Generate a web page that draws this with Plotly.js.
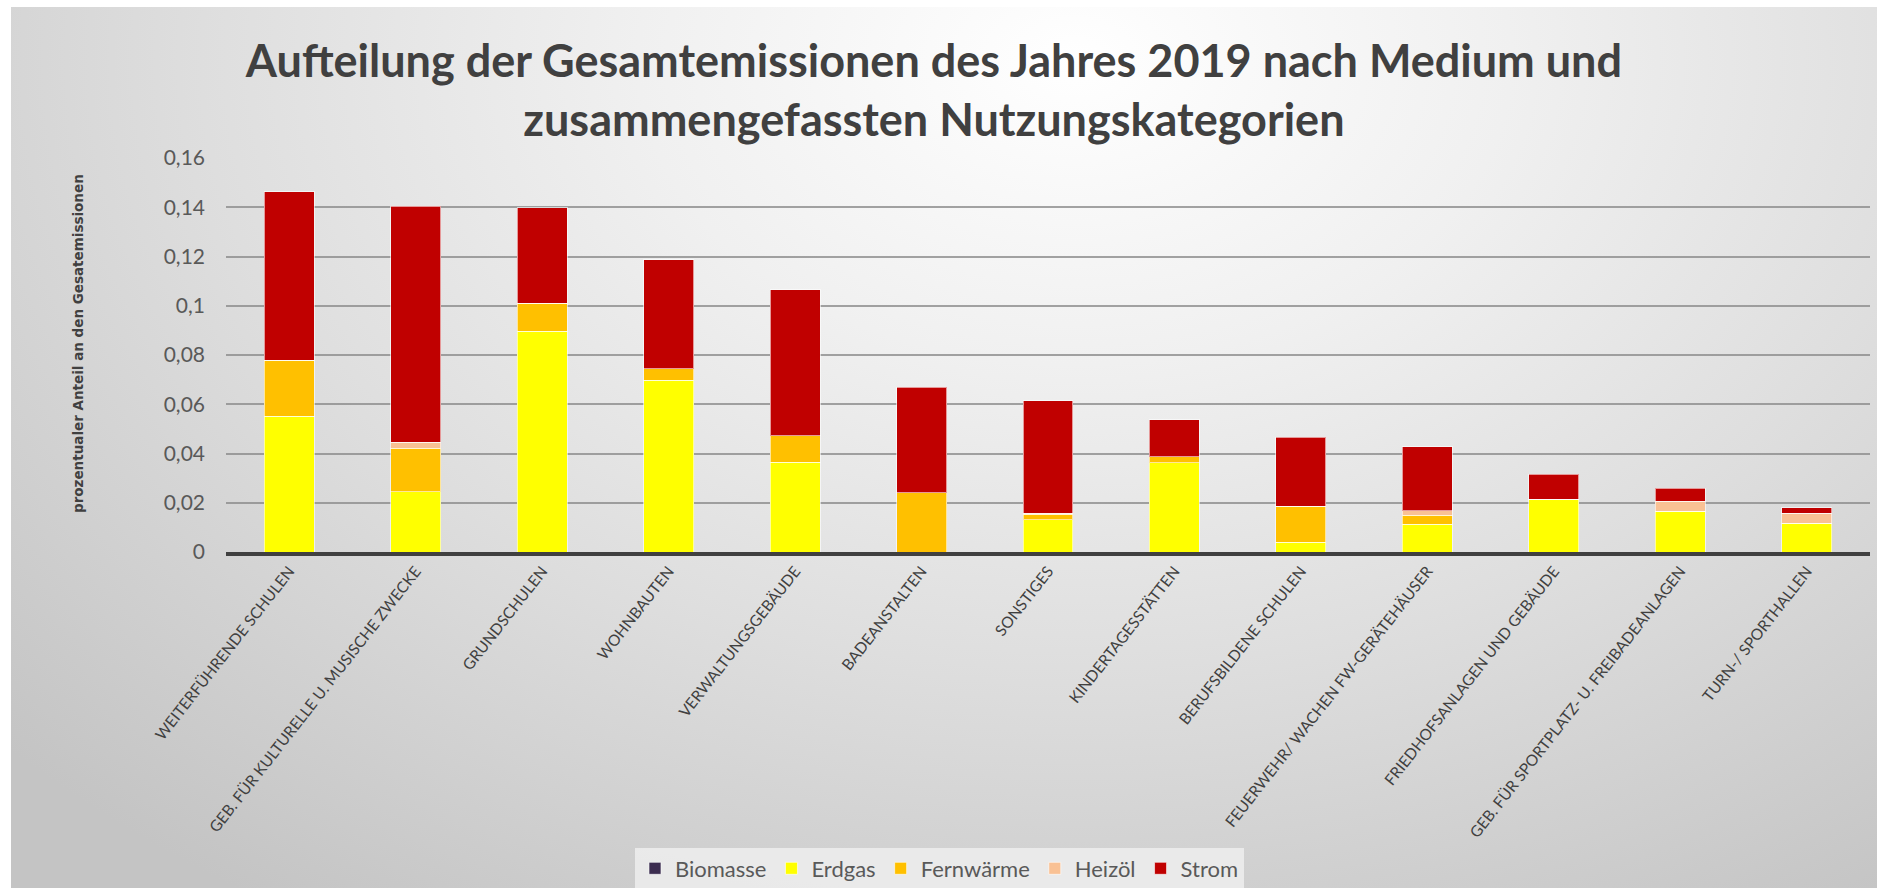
<!DOCTYPE html>
<html>
<head>
<meta charset="utf-8">
<script src="https://cdn.plot.ly/plotly-3.0.1.min.js"></script>
<style>
  html, body { margin: 0; padding: 0; background: #ffffff; width: 1877px; height: 888px; overflow: hidden; }
  #chart {
    position: absolute; left: 11px; top: 7px; width: 1866px; height: 881px;
    background: radial-gradient(ellipse 78% 115% at 57% 6%, #ffffff 0%, #f0f0f0 30%, #dedede 60%, #c4c4c4 100%);
  }
</style>
</head>
<body>
<div id="chart"></div>
<script>
// Nutzungskategorien (x-Achse)
const kategorien = [
    'WEITERFÜHRENDE SCHULEN',
    'GEB. FÜR KULTURELLE U. MUSISCHE ZWECKE',
    'GRUNDSCHULEN',
    'WOHNBAUTEN',
    'VERWALTUNGSGEBÄUDE',
    'BADEANSTALTEN',
    'SONSTIGES',
    'KINDERTAGESSTÄTTEN',
    'BERUFSBILDENE SCHULEN',
    'FEUERWEHR/ WACHEN FW-GERÄTEHÄUSER',
    'FRIEDHOFSANLAGEN UND GEBÄUDE',
    'GEB. FÜR SPORTPLATZ- U. FREIBADEANLAGEN',
    'TURN-/ SPORTHALLEN'
];

// Anteile je Medium
const biomasse  = [0, 0, 0, 0, 0, 0, 0, 0, 0, 0, 0, 0, 0];
const erdgas    = [0.0551, 0.0245, 0.0896, 0.0697, 0.0364, 0, 0.0132, 0.0363, 0.0040, 0.0112, 0.0215, 0.0166, 0.0116];
const fernwaerme = [0.0227, 0.0177, 0.0115, 0.0048, 0.0108, 0.0241, 0.0021, 0.0023, 0.0146, 0.0038, 0, 0, 0];
const heizoel   = [0, 0.0023, 0, 0, 0, 0, 0.0004, 0, 0, 0.0017, 0, 0.0040, 0.0041];
const strom     = [0.0685, 0.0959, 0.0386, 0.0442, 0.0594, 0.0429, 0.0458, 0.0151, 0.0281, 0.0261, 0.0101, 0.0052, 0.0022];

const segLine = { color: 'rgba(255,255,255,0.6)', width: 1 };

function serie(name, values, color) {
    return {
        x: kategorien,
        y: values,
        type: 'bar',
        name: name,
        marker: { color: color, line: segLine },
        hoverinfo: 'x+y+name'
    };
}

const data = [
    serie('Biomasse', biomasse, '#3b2c4f'),
    serie('Erdgas', erdgas, '#ffff00'),
    serie('Fernwärme', fernwaerme, '#ffc000'),
    serie('Heizöl', heizoel, '#f9c194'),
    serie('Strom', strom, '#c00000')
];

const layout = {
    width: 1866,
    height: 881,
    paper_bgcolor: 'rgba(0,0,0,0)',
    plot_bgcolor: 'rgba(0,0,0,0)',
    barmode: 'stack',
    bargap: 0.605,
    separators: ',.',
    margin: { l: 215, r: 7, t: 151, b: 336, autoexpand: false },
    font: { family: 'Lato, sans-serif', color: '#595959' },
    title: {
        text: 'Aufteilung der Gesamtemissionen des Jahres 2019 nach Medium und<br>zusammengefassten Nutzungskategorien',
        font: { family: 'Lato, sans-serif', size: 45, color: '#404040', weight: 'bold' },
        x: 0.4946,
        xref: 'container',
        xanchor: 'center',
        y: 1 - 70 / 881,
        yref: 'container',
        yanchor: 'top'
    },
    xaxis: {
        tickangle: -52,
        tickfont: { family: 'Lato, sans-serif', size: 15.5, color: '#404040' },
        showgrid: false,
        zeroline: false,
        showline: true,
        linecolor: '#404040',
        linewidth: 4,
        ticks: '',
        fixedrange: true
    },
    yaxis: {
        range: [0, 0.16],
        dtick: 0.02,
        tickfont: { family: 'Lato, sans-serif', size: 21, color: '#595959' },
        ticklabelstandoff: 20,
        gridcolor: 'rgba(140,140,140,0.8)',
        gridwidth: 2,
        zeroline: false,
        showline: false,
        ticks: '',
        fixedrange: true
    },
    annotations: [{
        text: 'prozentualer Anteil an den Gesatemissionen',
        textangle: -90,
        xref: 'paper', yref: 'paper',
        x: -0.09, y: 0.528,
        xanchor: 'center', yanchor: 'middle',
        showarrow: false,
        font: { family: 'DejaVu Sans, sans-serif', size: 13.5, color: '#404040', weight: 'bold' }
    }],
    legend: {
        orientation: 'h',
        x: 0.434,
        xanchor: 'center',
        y: -0.75,
        yanchor: 'top',
        bgcolor: 'rgba(236,236,236,0.9)',
        font: { family: 'Lato, sans-serif', size: 22, color: '#595959' },
        itemwidth: 30,
        traceorder: 'normal'
    },
    showlegend: true
};

Plotly.newPlot('chart', data, layout, { displayModeBar: false, staticPlot: true });
</script>
</body>
</html>
